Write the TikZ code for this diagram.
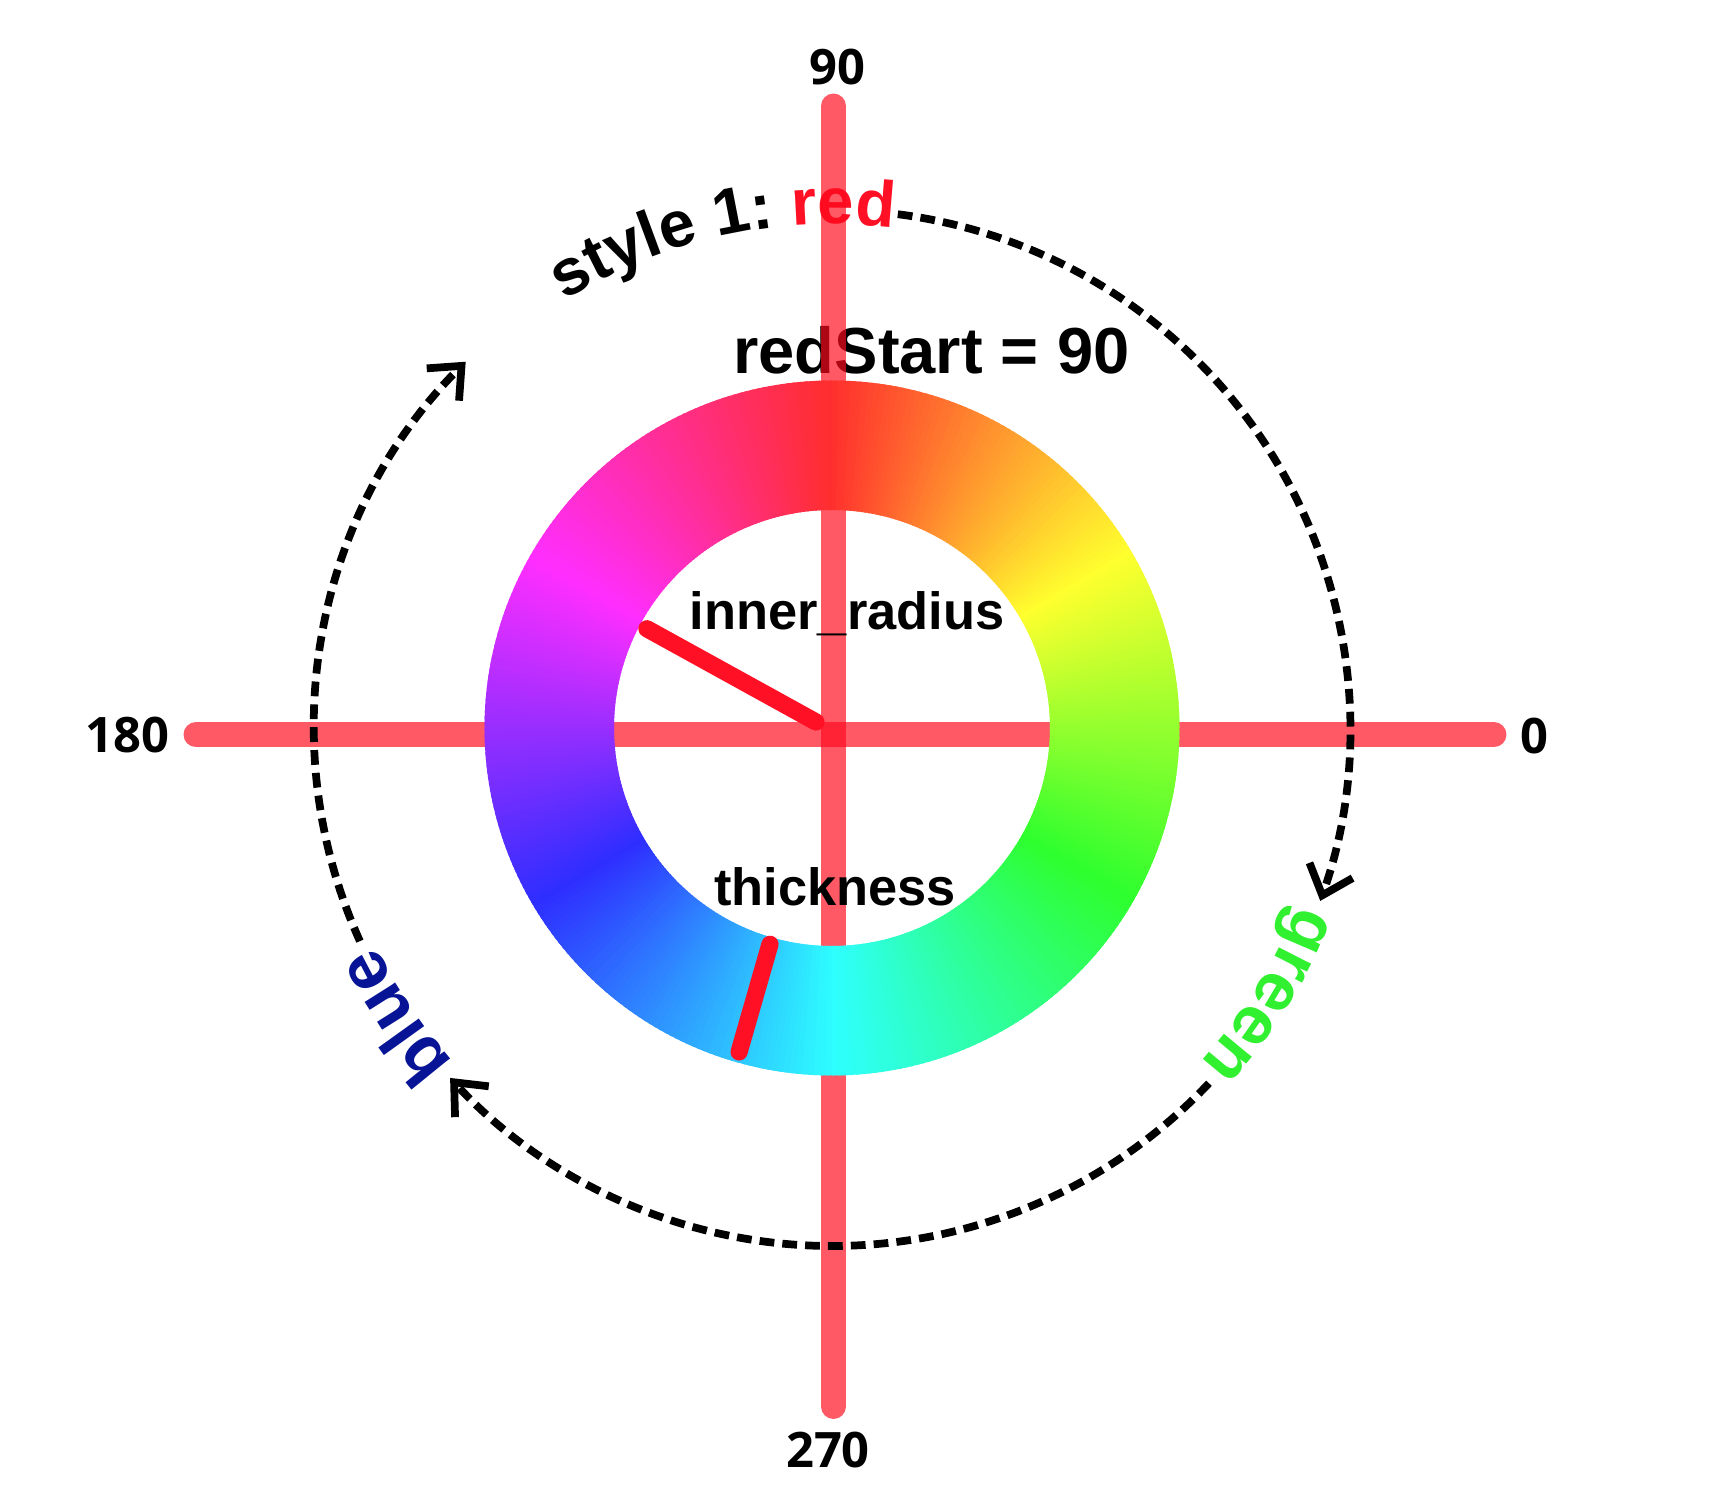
\documentclass[tikz,border=0pt]{standalone}
\usepackage{fontspec}
\setmainfont{Liberation Sans}
\newfontfamily\numfont{Open Sans}
\usetikzlibrary{arrows.meta,decorations.text}
\definecolor{axisred}{RGB}{255,10,30}
\definecolor{markred}{RGB}{255,16,36}
\definecolor{txtred}{RGB}{255,16,36}
\definecolor{txtgreen}{RGB}{48,240,48}
\definecolor{txtblue}{RGB}{8,20,150}
\newcommand\arcfont{\fontsize{18.5pt}{20pt}\selectfont\bfseries}
\newcommand\hueword{\fontsize{19.5pt}{22pt}\selectfont\bfseries}

\begin{document}
\begin{tikzpicture}[x=0.01cm,y=0.01cm,line cap=round,line join=round,
  axis/.style={axisred,opacity=0.68,line width=7.1pt},
  marker/.style={markred,line width=4.9pt},
  orbit/.style={line width=2.2pt,line cap=butt,dash pattern=on 4.2pt off 2.3pt,
    -{Straight Barb[length=7.5pt,width=13pt,line join=miter]}},
  axislabel/.style={font=\numfont\bfseries\fontsize{13.9pt}{15pt}\selectfont,inner sep=0pt},
  ringlabel/.style={font=\bfseries\fontsize{14.9pt}{16pt}\selectfont,inner sep=0pt,anchor=base}]
\useasboundingbox (-832,-766) rectangle (880,728);
\coordinate (c) at (0,0);
% title texts, under the axes
\node[font=\bfseries\fontsize{18.5pt}{20pt}\selectfont,inner sep=0pt,anchor=base] (redstart) at (99.5,354) {redStart = 90};
\path[decorate,decoration={text along path,text align=center,
  text={|\arcfont|style 1: |\arcfont\color{txtred}|red}}] (132:504) arc[start angle=132,end angle=73,radius=504];
% axes
\coordinate (ax0) at (662,-6.7);
\coordinate (ax180) at (-636,-6.7);
\coordinate (ax90) at (1.5,622);
\coordinate (ax270) at (1.5,-678.5);
\draw[axis] (ax180) -- (ax0);
\draw[axis] (ax270) -- (ax90);
% hue ring
\foreach \a in {0,...,359}{
  \pgfmathtruncatemacro{\h}{mod(450-\a,360)}
  \definecolor{ringhue}{Hsb}{\h,0.82,1}
  \fill[ringhue] (\a:218) arc[start angle=\a,end angle=\a+1.6,radius=218]
    -- (\a+1.6:347.5) arc[start angle=\a+1.6,end angle=\a,radius=347.5] -- cycle;
}
% inner labels and markers
\node[ringlabel] (innerlab) at (15,98) {inner\_radius};
\node[ringlabel] (thicklab) at (3,-178) {thickness};
\coordinate (ir0) at (151.8:210);
\coordinate (ir1) at (-16,6);
\draw[marker] (ir0) -- (ir1);
\coordinate (th0) at (254:225);
\coordinate (th1) at (254:337);
\draw[marker] (th0) -- (th1);
% direction of the hue, dashed
\coordinate (o1s) at (82.7:518);
\coordinate (o2s) at (-43.3:518);
\coordinate (o3s) at (204.3:518);
\draw[orbit] (o1s) arc[start angle=82.7,end angle=-19.5,radius=518];
\draw[orbit] (o2s) arc[start angle=-43.3,end angle=-137.5,radius=518];
\draw[orbit] (o3s) arc[start angle=204.3,end angle=135,radius=518];
\path[decorate,decoration={text along path,text align=center,
  text={|\hueword\color{txtgreen}|green}}] (-10:498) arc[start angle=-10,end angle=-53,radius=498];
\path[decorate,decoration={text along path,text align=center,
  text={|\hueword\color{txtblue}|blue}}] (235:505) arc[start angle=235,end angle=192,radius=505];
% angle labels
\node[axislabel] (l0) at (702,-8) {0};
\node[axislabel] (l90) at (5.5,661.3) {90};
\node[axislabel] (l180) at (-704.5,-7.5) {180};
\node[axislabel] (l270) at (-4,-722) {270};
\end{tikzpicture}
\end{document}
